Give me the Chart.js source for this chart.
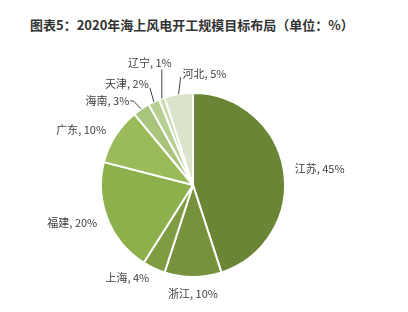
<!DOCTYPE html>
<html lang="zh-CN">
<head>
<meta charset="utf-8">
<title>海上风电开工规模目标布局</title>
<script src="https://cdn.jsdelivr.net/npm/chart.js@4"></script>
<style>
  html, body { margin: 0; padding: 0; background: #fff; }
  #wrap { position: relative; width: 408px; height: 312px; }
  #title { position: absolute; left: 30px; top: 15px; font: bold 13px "Noto Sans CJK SC", sans-serif; color: #333; white-space: nowrap; }
  canvas { position: absolute; left: 0; top: 0; }
</style>
</head>
<body>
<div id="wrap">
  <div id="title">图表5：2020年海上风电开工规模目标布局（单位：%）</div>
  <canvas id="c" width="408" height="312"></canvas>
</div>
<script>
// 数据 (单位：%)
const PROVINCES = ['江苏', '浙江', '上海', '福建', '广东', '海南', '天津', '辽宁', '河北'];
const SHARES    = [45, 10, 4, 20, 10, 3, 2, 1, 5];
const COLORS    = ['#6a8535', '#76923c', '#7f9c43', '#8cb04c', '#9bbb5a', '#a9c57c', '#b8cf93', '#c8daad', '#d9e4ca'];

// 小扇区引线：相对扇区外缘中点的偏移 (dx, dy) 与文字对齐
const LEADERS = {
  '海南': { dx: -8, dy: -8, align: 'right', elbow: 3 },
  '天津': { dx: -4, dy: -14, align: 'right' },
  '辽宁': { dx: 0, dy: -29, align: 'center' },
  '河北': { dx: 2, dy: -17, align: 'left' },
};

// 扇区外侧标签 + 引线
const labelPlugin = {
  id: 'sliceLabels',
  afterDatasetsDraw(chart) {
    const ctx = chart.ctx;
    const arcs = chart.getDatasetMeta(0).data;
    ctx.save();
    ctx.font = '11px "Noto Sans CJK SC", sans-serif';
    ctx.fillStyle = '#404040';
    ctx.strokeStyle = '#404040';
    ctx.lineWidth = 1;
    arcs.forEach((arc, i) => {
      const { x: cx, y: cy, startAngle, endAngle, outerRadius: R } = arc.getProps(['x', 'y', 'startAngle', 'endAngle', 'outerRadius'], true);
      const mid = (startAngle + endAngle) / 2;
      const cos = Math.cos(mid), sin = Math.sin(mid);
      const text = PROVINCES[i] + ', ' + SHARES[i] + '%';
      const lead = LEADERS[PROVINCES[i]];
      if (lead) {
        const ex = cx + R * cos, ey = cy + R * sin;
        const px = ex + lead.dx, py = ey + lead.dy;
        ctx.beginPath();
        ctx.moveTo(ex, ey);
        ctx.lineTo(px, py);
        if (lead.elbow) ctx.lineTo(px - lead.elbow, py);
        ctx.stroke();
        ctx.textBaseline = 'bottom';
        if (lead.align === 'right') {
          ctx.textAlign = 'right';
          ctx.textBaseline = lead.elbow ? 'middle' : 'bottom';
          ctx.fillText(text, px - (lead.elbow || 0) - 1, py + (lead.elbow ? 0 : 2));
        } else if (lead.align === 'left') {
          ctx.textAlign = 'left';
          ctx.fillText(text, px + 2, py + 2);
        } else {
          ctx.textAlign = 'center';
          ctx.fillText(text, px - 12, py - 1);
        }
        return;
      }
      const r = R + 11;
      let x = cx + r * cos, y = cy + r * sin;
      if (Math.abs(cos) < 0.3) {
        ctx.textAlign = 'center';
        ctx.textBaseline = sin > 0 ? 'top' : 'bottom';
      } else {
        ctx.textAlign = cos > 0 ? 'left' : 'right';
        ctx.textBaseline = 'middle';
      }
      ctx.fillText(text, x, y);
    });
    ctx.restore();
  }
};

new Chart(document.getElementById('c'), {
  type: 'pie',
  data: {
    labels: PROVINCES,
    datasets: [{
      data: SHARES,
      backgroundColor: COLORS,
      borderColor: '#ffffff',
      borderWidth: 2,
    }]
  },
  options: {
    responsive: false,
    animation: false,
    layout: { padding: { left: 100, right: 122, top: 92, bottom: 34 } },
    plugins: {
      legend: { display: false },
      tooltip: { enabled: false },
      title: { display: false },
    }
  },
  plugins: [labelPlugin]
});
</script>
</body>
</html>
